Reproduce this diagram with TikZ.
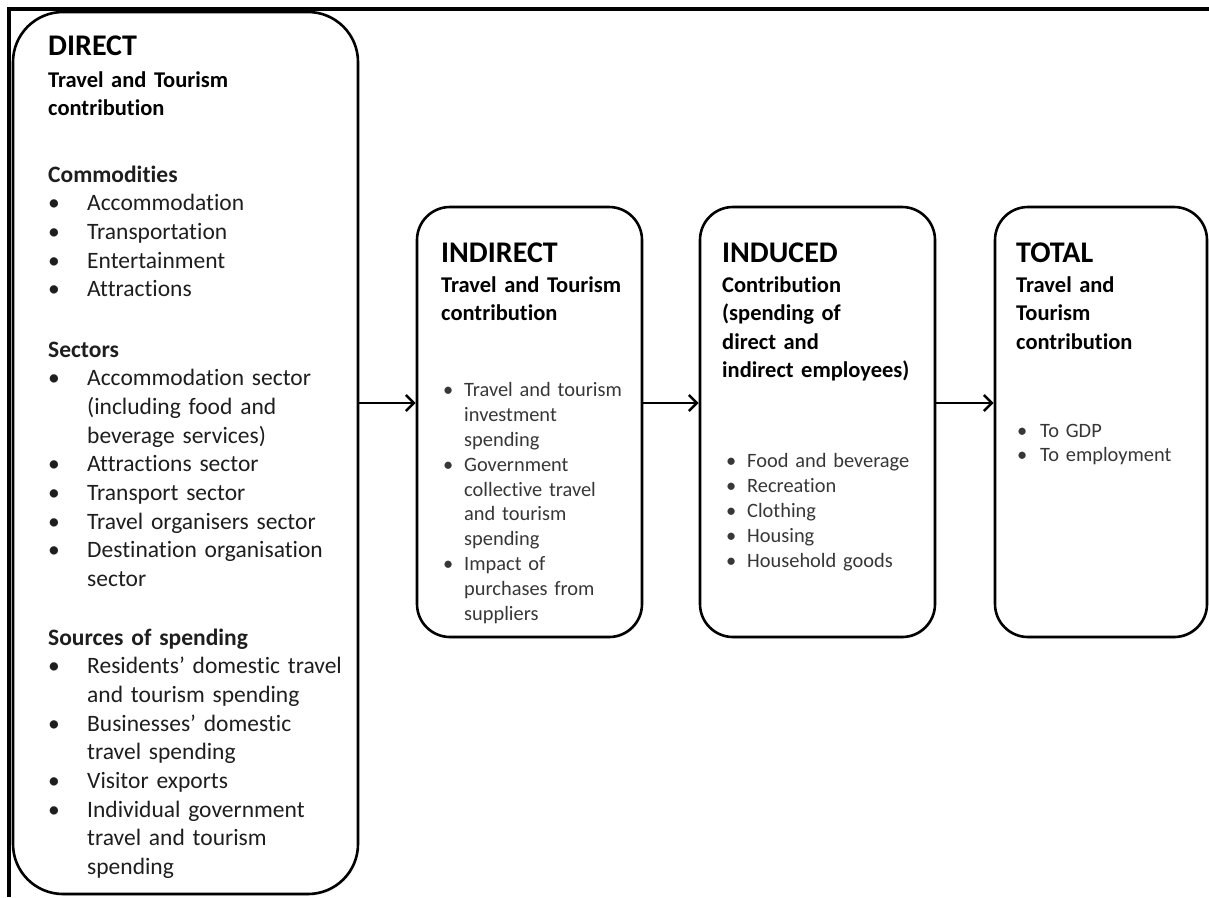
\documentclass[tikz,border=0pt]{standalone}
\usepackage{fontspec}
\setmainfont{Carlito}[Ligatures=NoCommon]
\usetikzlibrary{positioning,arrows.meta,shadows}
\definecolor{bodygray}{RGB}{30,30,30}
\definecolor{listgray}{RGB}{55,55,55}
% bullet with hanging indent
\newcommand{\bitem}[1]{\par\noindent\hangindent=#1\hangafter=1\makebox[#1][l]{\textbullet}\ignorespaces}

\begin{document}
\begin{tikzpicture}[x=1pt, y=-1pt,
        panel/.style={draw, line width=2.6pt, fill=white, rounded corners=33pt,
                      drop shadow={shadow xshift=1pt, shadow yshift=-1.5pt, opacity=0.25}},
        txt/.style={anchor=base west, inner sep=0pt, align=left, text width=#1},
        txt/.default=320pt,
        ttl/.style={txt, font=\fontsize{30}{34}\selectfont\bfseries},
        sub/.style={txt, font=\fontsize{22.5}{28.6}\selectfont\bfseries},
        body/.style={txt, text=bodygray, font=\fontsize{23.5}{28.7}\selectfont},
        lst/.style={txt=210pt, text=listgray, font=\fontsize{20.4}{#1}\selectfont},
        arr/.style={-{Straight Barb[length=8pt, width=16pt]}, line width=2.5pt}
    ]
    \useasboundingbox (0,0) rectangle (1209,897);
    % outer frame
    \draw[line width=3.8pt] (9,897) -- (9,9) -- (1209,9);

    % the four panels
    \node[panel, rounded corners=50pt, minimum width=345pt, minimum height=882pt] (dir) at (185.5,453) {};
    \node[panel, minimum width=225pt, minimum height=430pt] (ind) at (529.5,422) {};
    \node[panel, minimum width=235pt, minimum height=430pt] (idc) at (817.5,422) {};
    \node[panel, minimum width=212pt, minimum height=430pt] (tot) at (1101,422) {};

    % DIRECT
    \node[ttl] (dirhd) at (48,55) {DIRECT};
    \node[sub] (dirsub) at (48,87) {Travel and Tourism\newline contribution};
    \node[body] (dircom) at (48,182) {\textbf{Commodities}
      \bitem{39pt}Accommodation
      \bitem{39pt}Transportation
      \bitem{39pt}Entertainment
      \bitem{39pt}Attractions\par};
    \node[body] (dirsec) at (48,357) {\textbf{Sectors}
      \bitem{39pt}Accommodation sector\newline (including food and\newline beverage services)
      \bitem{39pt}Attractions sector
      \bitem{39pt}Transport sector
      \bitem{39pt}Travel organisers sector
      \bitem{39pt}Destination organisation\newline sector\par};
    \node[body] (dirsrc) at (48,645) {\textbf{Sources of spending}
      \bitem{39pt}Residents’ domestic travel\newline and tourism spending
      \bitem{39pt}Businesses’ domestic\newline travel spending
      \bitem{39pt}Visitor exports
      \bitem{39pt}Individual government\newline travel and tourism\newline spending\par};

    % INDIRECT
    \node[ttl] (indhd) at (441,262) {INDIRECT};
    \node[sub] (indsub) at (441,292) {Travel and Tourism\newline contribution};
    \node[lst=24.8pt] (indlst) at (443,372) {%
      \bitem{21pt}Travel and tourism\newline investment\newline spending
      \bitem{21pt}Government\newline collective travel\newline and tourism\newline spending
      \bitem{21pt}Impact of\newline purchases from\newline suppliers\par};

    % INDUCED
    \node[ttl] (idchd) at (722,262) {INDUCED};
    \node[sub] (idcsub) at (722,292) {Contribution\newline (spending of\newline direct and\newline indirect employees)};
    \node[lst=25pt] (idclst) at (726,442) {%
      \bitem{21pt}Food and beverage
      \bitem{21pt}Recreation
      \bitem{21pt}Clothing
      \bitem{21pt}Housing
      \bitem{21pt}Household goods\par};

    % TOTAL
    \node[ttl] (tothd) at (1016,262) {TOTAL};
    \node[sub] (totsub) at (1016,292) {Travel and\newline Tourism\newline contribution};
    \node[lst=24pt] (totlst) at (1017,413) {%
      \bitem{23pt}To GDP
      \bitem{23pt}To employment\par};

    % connectors
    \coordinate (lane) at (0,403);
    \draw[arr] (dir.east |- lane) -- (ind.west |- lane);
    \draw[arr] (ind.east |- lane) -- (idc.west |- lane);
    \draw[arr] (idc.east |- lane) -- (tot.west |- lane);
\end{tikzpicture}
\end{document}
